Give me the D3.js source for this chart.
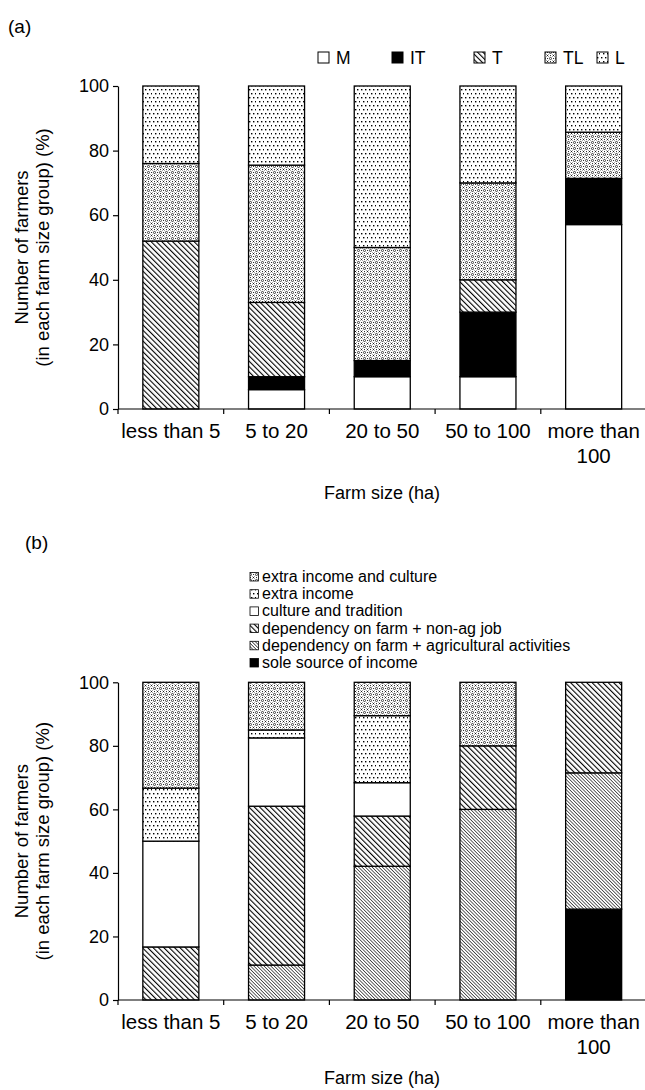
<!DOCTYPE html>
<html><head><meta charset="utf-8">
<script src="https://cdn.jsdelivr.net/npm/d3@7"></script>
<style>
html,body{margin:0;padding:0;background:#fff;}
text{font-family:"Liberation Sans",Arial,Helvetica,sans-serif;fill:#000;}
</style></head>
<body>
<svg id="c" width="645" height="1090"></svg>
<script>
// ---------- DATA ----------
const categories = ["less than 5", "5 to 20", "20 to 50", "50 to 100", "more than 100"];
const categoryLines = [["less than 5"], ["5 to 20"], ["20 to 50"], ["50 to 100"], ["more than", "100"]];
const yTicks = [0, 20, 40, 60, 80, 100];

// Panel (a)
const keysA = ["M", "IT", "T", "TL", "L"];
const valM  = [0, 6, 10, 10, 57.1];
const valIT = [0, 4, 5, 20, 14.3];
const valT  = [52, 23, 0, 10, 0];
const valTL = [24, 42.5, 35, 30, 14.3];
const valL  = [24, 24.5, 50, 30, 14.3];

// Panel (b)
const keysB = ["sole", "ag", "nonag", "culture", "extra", "extraCulture"];
const labelsB = {
  extraCulture: "extra income and culture",
  extra: "extra income",
  culture: "culture and tradition",
  nonag: "dependency on farm + non-ag job",
  ag: "dependency on farm + agricultural activities",
  sole: "sole source of income"
};
const legendOrderB = ["extraCulture", "extra", "culture", "nonag", "ag", "sole"];
const valSole    = [0, 0, 0, 0, 28.6];
const valAg      = [0, 11, 42.1, 60, 42.9];
const valNonag   = [16.7, 50, 15.8, 20, 28.5];
const valCulture = [33.3, 21.5, 10.5, 0, 0];
const valExtra   = [16.7, 2.5, 21.1, 0, 0];
const valExtraCulture = [33.3, 15, 10.5, 20, 0];

// ---------- SVG / PATTERNS ----------
const svg = d3.select("#c");
const defs = svg.append("defs");

function hatch(id, s, w) {
  const p = defs.append("pattern").attr("id", id).attr("patternUnits", "userSpaceOnUse")
    .attr("width", s).attr("height", s).attr("patternTransform", "rotate(-45)");
  p.append("rect").attr("width", s).attr("height", s).attr("fill", "#fff");
  p.append("rect").attr("x", 0).attr("y", 0).attr("width", w).attr("height", s).attr("fill", "#000");
}
hatch("pT", 3.8, 1.1);
hatch("pAg", 2.4, 0.6);

(function dots() {
  const p = defs.append("pattern").attr("id", "pL").attr("patternUnits", "userSpaceOnUse")
    .attr("width", 8).attr("height", 8);
  p.append("rect").attr("width", 8).attr("height", 8).attr("fill", "#fff");
  [[1,1],[5,1],[3,5],[7,5]].forEach(([x,y]) =>
    p.append("rect").attr("x", x).attr("y", y).attr("width", 1.4).attr("height", 1.4).attr("fill", "#000"));
})();
(function cross() {
  const p = defs.append("pattern").attr("id", "pTL").attr("patternUnits", "userSpaceOnUse")
    .attr("width", 6).attr("height", 6);
  p.append("rect").attr("width", 6).attr("height", 6).attr("fill", "#fff");
  p.append("path").attr("d", "M0.5,0.5L2.5,2.5M2.5,0.5L0.5,2.5").attr("stroke", "#000").attr("stroke-width", 0.7);
  p.append("circle").attr("cx", 4.5).attr("cy", 4.5).attr("r", 1.1).attr("fill", "none")
    .attr("stroke", "#000").attr("stroke-width", 0.7);
  p.append("rect").attr("x", 4).attr("y", 1).attr("width", 0.9).attr("height", 0.9).attr("fill", "#000");
  p.append("rect").attr("x", 1).attr("y", 4).attr("width", 0.9).attr("height", 0.9).attr("fill", "#000");
})();

const fillA = { M: "#fff", IT: "#000", T: "url(#pT)", TL: "url(#pTL)", L: "url(#pL)" };
const fillB = { sole: "#000", ag: "url(#pAg)", nonag: "url(#pT)", culture: "#fff", extra: "url(#pL)", extraCulture: "url(#pTL)" };

// ---------- CHART BUILDER ----------
const x = d3.scaleBand().domain(categories).range([118, 646.5]).paddingInner(0.47).paddingOuter(0.235);

function panel(cfg) {
  const y = d3.scaleLinear().domain([0, 100]).range([cfg.y0, cfg.y100]);
  const g = svg.append("g");
  const rows = categories.map((c, i) => {
    const r = { cat: c };
    cfg.keys.forEach(k => r[k] = cfg.values[k][i]);
    return r;
  });
  const series = d3.stack().keys(cfg.keys)(rows);
  series.forEach(s => {
    g.append("g").selectAll("rect").data(s.filter(d => d[1] - d[0] > 0)).join("rect")
      .attr("x", d => x(d.data.cat))
      .attr("width", x.bandwidth())
      .attr("y", d => y(d[1]))
      .attr("height", d => y(d[0]) - y(d[1]))
      .attr("fill", cfg.fills[s.key])
      .attr("stroke", "#000").attr("stroke-width", 1.3);
  });
  // y axis
  const ya = g.append("g").attr("transform", "translate(118,0)")
    .call(d3.axisLeft(y).tickValues(yTicks).tickSize(5).tickSizeOuter(0).tickPadding(4));
  ya.select(".domain").attr("stroke-width", 1.2);
  ya.selectAll("line").attr("stroke-width", 1.2);
  ya.selectAll("text").attr("font-size", 18).style("font-family", "Liberation Sans, Arial, sans-serif");
  // x axis
  g.append("line").attr("x1", 118).attr("x2", 646.5).attr("y1", cfg.y0).attr("y2", cfg.y0)
    .attr("stroke", "#000").attr("stroke-width", 1.2);
  const edges = categories.map(c => x(c) - x.step() * x.paddingOuter());
  edges.push(646.5);
  g.selectAll(".xt").data(edges).join("line")
    .attr("x1", d => d).attr("x2", d => d).attr("y1", cfg.y0).attr("y2", cfg.y0 + 5)
    .attr("stroke", "#000").attr("stroke-width", 1.2);
  categories.forEach((c, i) => {
    const t = g.append("text").attr("x", x(c) + x.bandwidth() / 2).attr("y", cfg.y0 + 29)
      .attr("text-anchor", "middle").attr("font-size", 20.5);
    categoryLines[i].forEach((ln, j) => t.append("tspan").attr("x", x(c) + x.bandwidth() / 2)
      .attr("dy", j === 0 ? 0 : 25).text(ln));
  });
  g.append("text").attr("x", 382).attr("y", cfg.titleY).attr("text-anchor", "middle")
    .attr("font-size", 18).text("Farm size (ha)");
  const cy = (cfg.y0 + cfg.y100) / 2;
  g.append("text").attr("transform", `translate(28,${cy}) rotate(-90)`).attr("text-anchor", "middle")
    .attr("font-size", 18.5).text("Number of farmers");
  g.append("text").attr("transform", `translate(49,${cy}) rotate(-90)`).attr("text-anchor", "middle")
    .attr("font-size", 18.5).text("(in each farm size group) (%)");
  return g;
}

panel({
  y0: 409, y100: 86, titleY: 499, keys: keysA, fills: fillA,
  values: { M: valM, IT: valIT, T: valT, TL: valTL, L: valL }
});
panel({
  y0: 1000, y100: 682.3, titleY: 1084, keys: keysB, fills: fillB,
  values: { sole: valSole, ag: valAg, nonag: valNonag, culture: valCulture, extra: valExtra, extraCulture: valExtraCulture }
});

// panel labels
svg.append("text").attr("x", 8).attr("y", 33).attr("font-size", 19).text("(a)");
svg.append("text").attr("x", 25).attr("y", 549).attr("font-size", 19).text("(b)");

// legend (a)
const legAx = [318, 392, 474, 545, 597];
keysA.forEach((k, i) => {
  svg.append("rect").attr("x", legAx[i]).attr("y", 52).attr("width", 11).attr("height", 11)
    .attr("fill", fillA[k]).attr("stroke", "#000").attr("stroke-width", 1);
  svg.append("text").attr("x", legAx[i] + 18).attr("y", 64).attr("font-size", 17.5).text(k);
});

// legend (b)
legendOrderB.forEach((k, i) => {
  const yy = 577 + i * 17.2;
  svg.append("rect").attr("x", 250).attr("y", yy - 4.5).attr("width", 8.5).attr("height", 8.5)
    .attr("fill", fillB[k]).attr("stroke", "#000").attr("stroke-width", 0.8);
  svg.append("text").attr("x", 262).attr("y", yy + 5).attr("font-size", 16).text(labelsB[k]);
});
</script>
</body></html>
